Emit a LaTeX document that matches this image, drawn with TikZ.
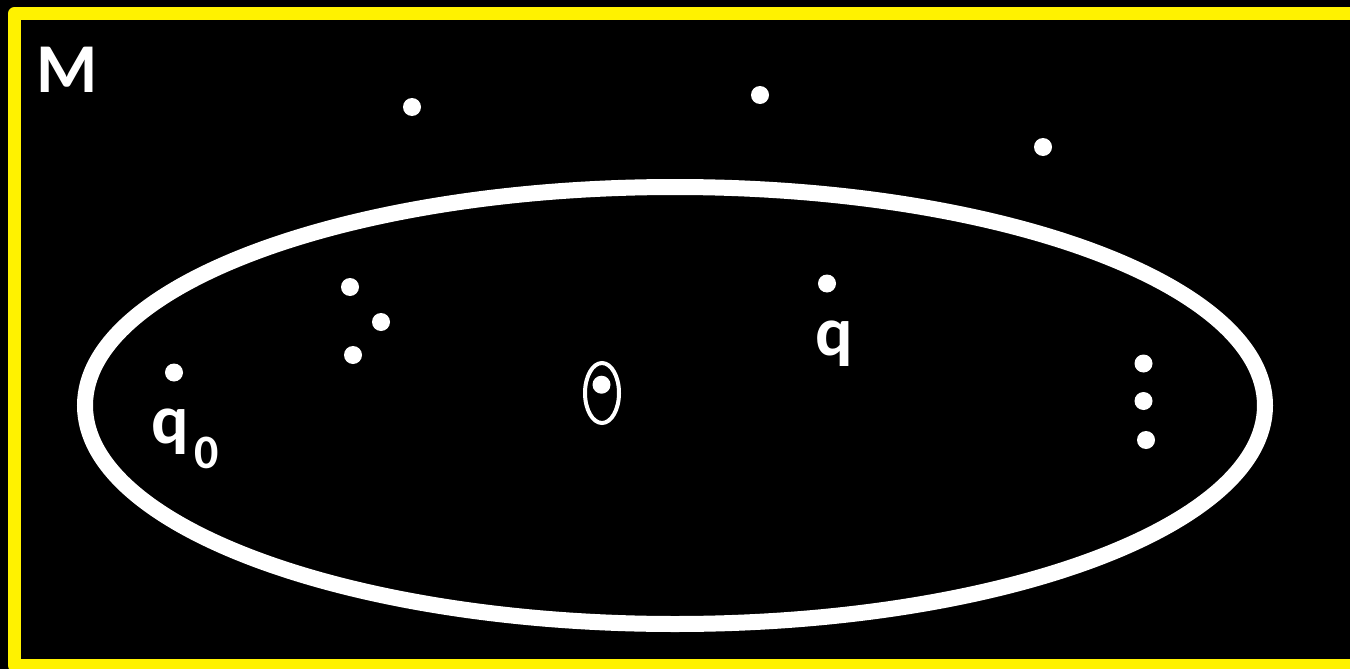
\documentclass[tikz,border=0pt]{standalone}
\usepackage{fontspec}
\setmainfont{Carlito}
\usetikzlibrary{shapes.geometric}
\begin{document}
\begin{tikzpicture}[x=0.5pt,y=-0.5pt,
  dot/.style={circle,fill=white,inner sep=0pt,minimum size=9pt},
  lbl/.style={text=white,font=\fontsize{35}{42}\selectfont\bfseries,inner sep=0pt},
  frame/.style={draw=yellow,line width=6.5pt,line join=round},
  setline/.style={draw=white,line width=8pt,ellipse,inner sep=0pt}
]
\fill[black] (0,0) rectangle (1350,669);
\useasboundingbox (0,0) rectangle (1350,669);
\begin{scope}
  \clip (0,0) rectangle (1350,669);
  \draw[frame] (14.5,13.5) rectangle (1366,665.5);
\end{scope}
% the set
\node[setline,minimum width=590pt,minimum height=218.5pt] (S) at (675,405.5) {};
% points outside
\node[dot] (a1) at (412,107) {};
\node[dot] (a2) at (760,95) {};
\node[dot] (a3) at (1043,147) {};
% points inside
\node[dot] (b1) at (350,287) {};
\node[dot] (b2) at (381,322) {};
\node[dot] (b3) at (353,355) {};
\node[dot] (q0p) at (174,372.5) {};
\node[dot] (qp) at (827,283.5) {};
\node[dot] (c1) at (1143.5,363.5) {};
\node[dot] (c2) at (1143.5,401) {};
\node[dot] (c3) at (1146,440) {};
% circled point
\node[draw=white,line width=2pt,ellipse,inner sep=0pt,minimum width=17pt,minimum height=30pt] (O) at (602,393) {};
\node[dot] (Oc) at (601.5,384.7) {};
% labels
\node[lbl,anchor=base west] (M) at (36,92) {M};
\node[lbl,anchor=base west] (q) at (815,355) {q};
\node[lbl,anchor=base west] (q0) at (151,443) {q\hspace{3pt}\raisebox{-12.5pt}{\fontsize{24}{24}\selectfont 0}};
\end{tikzpicture}
\end{document}
